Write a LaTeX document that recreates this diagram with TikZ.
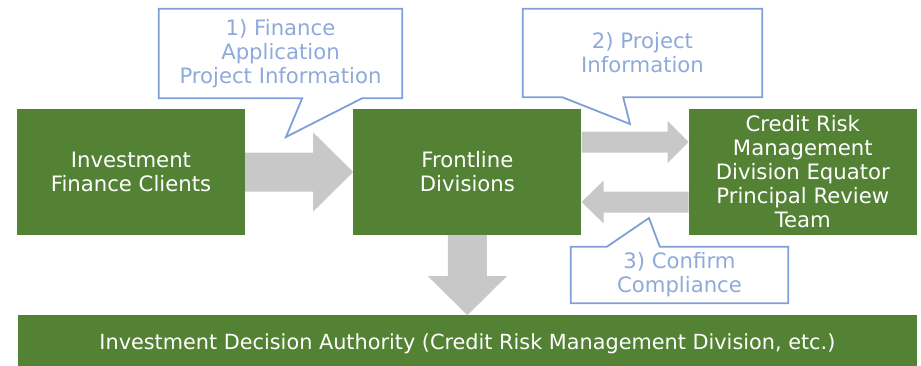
\documentclass[tikz,border=0pt]{standalone}
\usepackage{fontspec}
\setmainfont{DejaVu Sans}
\usetikzlibrary{positioning,calc}
\definecolor{boxgreen}{HTML}{548235}
\definecolor{arrowgray}{HTML}{C8C8C8}
\definecolor{callblue}{HTML}{7F9FD6}
\definecolor{calltext}{HTML}{8EAADB}
\tikzset{
  greenbox/.style={fill=boxgreen, text=white, minimum width=228pt, minimum height=126pt,
    inner sep=0pt, align=center, font=\fontsize{21.2}{24}\selectfont},
  callnote/.style={inner sep=0pt, align=center, text=calltext, font=\fontsize{21.2}{24}\selectfont},
  callline/.style={draw=callblue, line width=1.8pt, line join=miter},
  blockarrow/.style={fill=arrowgray},
}
\begin{document}
\begin{tikzpicture}[x=1pt,y=1pt]
\useasboundingbox (0,0) rectangle (921,365);

% Boxes
\node[greenbox] (clients) at (131,193) {Investment\\Finance Clients};
\node[greenbox, right=108pt of clients] (frontline) {Frontline\\Divisions};
\node[greenbox, right=107pt of frontline] (review) {Credit Risk\\Management\\Division Equator\\Principal Review\\Team};
\node[greenbox, minimum width=899pt, minimum height=56pt, below=80pt of frontline,
  font=\fontsize{20.8}{24}\selectfont] (authority)
  {Investment Decision Authority (Credit Risk Management Division, etc.)};

% Block arrows
\coordinate (a1s) at (clients.east);
\coordinate (a1e) at (frontline.west);
\fill[blockarrow] ($(a1s)+(0,19.5)$) -- ($(a1e)+(-40,19.5)$) -- ($(a1e)+(-40,39.5)$) -- (a1e)
  -- ($(a1e)+(-40,-39.5)$) -- ($(a1e)+(-40,-19.5)$) -- ($(a1s)+(0,-19.5)$) -- cycle;

\coordinate (a2s) at ($(frontline.east)+(0,30)$);
\coordinate (a2e) at ($(review.west)+(0,30)$);
\fill[blockarrow] ($(a2s)+(0,10.5)$) -- ($(a2e)+(-21,10.5)$) -- ($(a2e)+(-21,21)$) -- (a2e)
  -- ($(a2e)+(-21,-21)$) -- ($(a2e)+(-21,-10.5)$) -- ($(a2s)+(0,-10.5)$) -- cycle;

\coordinate (a3s) at ($(review.west)+(0,-30)$);
\coordinate (a3e) at ($(frontline.east)+(0,-30)$);
\fill[blockarrow] ($(a3s)+(0,10.5)$) -- ($(a3e)+(22,10.5)$) -- ($(a3e)+(22,21.5)$) -- (a3e)
  -- ($(a3e)+(22,-21.5)$) -- ($(a3e)+(22,-10.5)$) -- ($(a3s)+(0,-10.5)$) -- cycle;

\fill[blockarrow] ($(frontline.south)+(-19.5,0)$) -- ($(authority.north)+(-19.5,39)$)
  -- ($(authority.north)+(-39.5,39)$) -- (authority.north) -- ($(authority.north)+(39.5,39)$)
  -- ($(authority.north)+(19.5,39)$) -- ($(frontline.south)+(19.5,0)$) -- cycle;

% Callouts
\node[callnote, minimum width=243pt, minimum height=89pt] (note1) at (280.5,311.5)
  {1) Finance\\Application\\Project Information};
\coordinate (tip1) at (286,228);
\draw[callline] (note1.north west) -- (note1.north east) -- (note1.south east)
  -- ($(note1.south east)+(-40,0)$) -- (tip1) -- ($(note1.south east)+(-100,0)$)
  -- (note1.south west) -- cycle;

\node[callnote, minimum width=239pt, minimum height=88pt] (note2) at (642.5,312)
  {2) Project\\Information};
\coordinate (tip2) at (630,241);
\draw[callline] (note2.north west) -- (note2.north east) -- (note2.south east)
  -- ($(note2.south east)+(-139,0)$) -- (tip2) -- ($(note2.south east)+(-200,0)$)
  -- (note2.south west) -- cycle;

\node[callnote, minimum width=217pt, minimum height=56pt] (note3) at (679.5,90)
  {3) Confirm\\Compliance};
\coordinate (tip3) at (649,147);
\draw[callline] (note3.north west) -- ($(note3.north west)+(36,0)$) -- (tip3)
  -- ($(note3.north west)+(89,0)$) -- (note3.north east) -- (note3.south east)
  -- (note3.south west) -- cycle;
\end{tikzpicture}
\end{document}
